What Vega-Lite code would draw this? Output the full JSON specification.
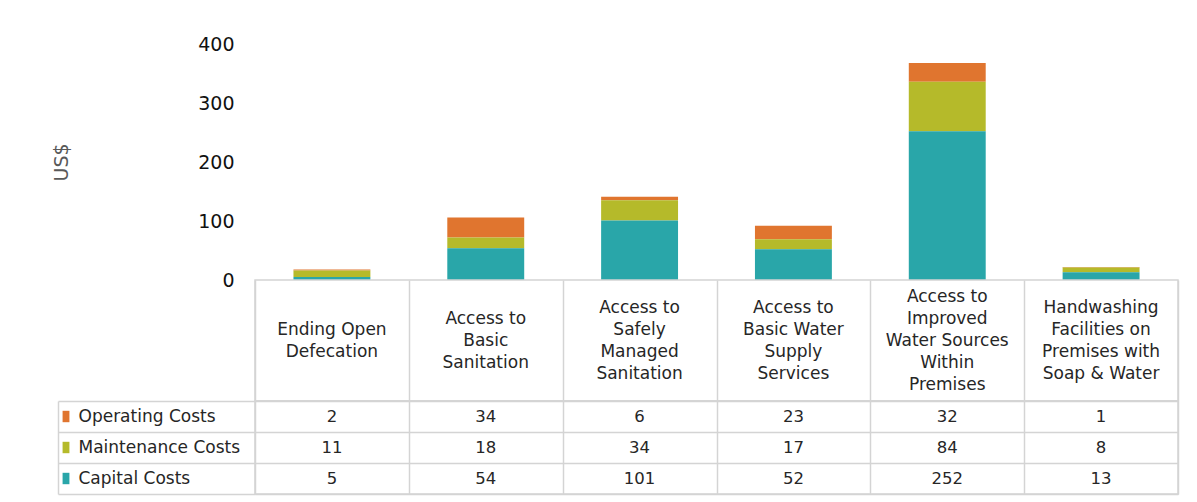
{
  "$schema": "https://vega.github.io/schema/vega-lite/v6.json",
  "background": "white",
  "padding": {"left": 52, "top": 35, "right": 5, "bottom": 5},
  "config": {
    "font": "DejaVu Sans",
    "view": {"stroke": null},
    "axis": {"labelFont": "DejaVu Sans", "titleFont": "DejaVu Sans"}
  },
  "datasets": {
    "costs": [
      {"category": "Ending Open\nDefecation", "cost": "Operating Costs", "value": 2},
      {"category": "Ending Open\nDefecation", "cost": "Maintenance Costs", "value": 11},
      {"category": "Ending Open\nDefecation", "cost": "Capital Costs", "value": 5},
      {"category": "Access to\nBasic\nSanitation", "cost": "Operating Costs", "value": 34},
      {"category": "Access to\nBasic\nSanitation", "cost": "Maintenance Costs", "value": 18},
      {"category": "Access to\nBasic\nSanitation", "cost": "Capital Costs", "value": 54},
      {"category": "Access to\nSafely\nManaged\nSanitation", "cost": "Operating Costs", "value": 6},
      {"category": "Access to\nSafely\nManaged\nSanitation", "cost": "Maintenance Costs", "value": 34},
      {"category": "Access to\nSafely\nManaged\nSanitation", "cost": "Capital Costs", "value": 101},
      {"category": "Access to\nBasic Water\nSupply\nServices", "cost": "Operating Costs", "value": 23},
      {"category": "Access to\nBasic Water\nSupply\nServices", "cost": "Maintenance Costs", "value": 17},
      {"category": "Access to\nBasic Water\nSupply\nServices", "cost": "Capital Costs", "value": 52},
      {"category": "Access to\nImproved\nWater Sources\nWithin\nPremises", "cost": "Operating Costs", "value": 32},
      {"category": "Access to\nImproved\nWater Sources\nWithin\nPremises", "cost": "Maintenance Costs", "value": 84},
      {"category": "Access to\nImproved\nWater Sources\nWithin\nPremises", "cost": "Capital Costs", "value": 252},
      {"category": "Handwashing\nFacilities on\nPremises with\nSoap & Water", "cost": "Operating Costs", "value": 1},
      {"category": "Handwashing\nFacilities on\nPremises with\nSoap & Water", "cost": "Maintenance Costs", "value": 8},
      {"category": "Handwashing\nFacilities on\nPremises with\nSoap & Water", "cost": "Capital Costs", "value": 13}
    ]
  },
  "columns": 2,
  "bounds": "flush",
  "spacing": {"row": 0, "column": 181},
  "resolve": {"scale": {"x": "independent", "y": "independent"}},
  "concat": [
    {
      "width": 16, "height": 236,
      "data": {"values": [{}]},
      "mark": {"type": "text"},
      "encoding": {"text": {"value": ""}}
    },
    {
      "width": 923, "height": 236,
      "data": {"name": "costs"},
      "mark": {"type": "bar"},
      "encoding": {
        "x": {"field": "category", "type": "nominal", "sort": null,
              "scale": {"paddingInner": 0.5, "paddingOuter": 0.25}, "axis": null},
        "y": {"field": "value", "type": "quantitative", "stack": "zero",
              "scale": {"domain": [0, 400], "nice": false},
              "axis": {"title": "US$", "values": [0, 100, 200, 300, 400], "grid": false,
                       "domain": false, "ticks": false, "labelPadding": 21,
                       "labelFontSize": 19, "labelColor": "#111111",
                       "titleFontSize": 19, "titleColor": "#595959", "titleFontWeight": "normal",
                       "titlePadding": 126}},
        "color": {"field": "cost", "type": "nominal",
                  "scale": {"domain": ["Operating Costs", "Maintenance Costs", "Capital Costs"],
                            "range": ["#E0752F", "#B5BA2A", "#29A6A9"]},
                  "legend": null},
        "order": {"field": "cost", "sort": "ascending"}
      }
    },
    {
      "width": 16, "height": 121,
      "data": {"values": [{}]},
      "mark": {"type": "text"},
      "encoding": {"text": {"value": ""}}
    },
    {
      "width": 923, "height": 121,
      "view": {"stroke": "#D4D4D4", "strokeWidth": 1.5},
      "data": {"name": "costs"},
      "transform": [{"filter": "datum.cost === 'Capital Costs'"}],
      "encoding": {
        "x": {"field": "category", "type": "nominal", "sort": null,
              "scale": {"paddingInner": 0, "paddingOuter": 0},
              "axis": {"title": null, "labels": false, "ticks": false, "domain": false,
                       "grid": true, "tickBand": "extent", "gridColor": "#D4D4D4", "gridWidth": 1.5}}
      },
      "layer": [
        {
          "mark": {"type": "text", "lineBreak": "\n", "fontSize": 17, "lineHeight": 22,
                   "color": "#262626", "baseline": "middle", "dy": -11},
          "encoding": {"text": {"condition": {"test": "length(split(datum.category, '\\n')) === 2", "field": "category"}, "value": ""}}
        },
        {
          "mark": {"type": "text", "lineBreak": "\n", "fontSize": 17, "lineHeight": 22,
                   "color": "#262626", "baseline": "middle", "dy": -22},
          "encoding": {"text": {"condition": {"test": "length(split(datum.category, '\\n')) === 3", "field": "category"}, "value": ""}}
        },
        {
          "mark": {"type": "text", "lineBreak": "\n", "fontSize": 17, "lineHeight": 22,
                   "color": "#262626", "baseline": "middle", "dy": -33},
          "encoding": {"text": {"condition": {"test": "length(split(datum.category, '\\n')) === 4", "field": "category"}, "value": ""}}
        },
        {
          "mark": {"type": "text", "lineBreak": "\n", "fontSize": 17, "lineHeight": 22,
                   "color": "#262626", "baseline": "middle", "dy": -44},
          "encoding": {"text": {"condition": {"test": "length(split(datum.category, '\\n')) === 5", "field": "category"}, "value": ""}}
        }
      ]
    },
    {
      "width": 16, "height": 93,
      "data": {"name": "costs"},
      "transform": [{"filter": "datum.category === 'Ending Open\\nDefecation'"}],
      "mark": {"type": "point", "filled": true, "opacity": 1, "size": 130, "strokeWidth": 0,
               "shape": "M-0.6,-1H0.6V1H-0.6Z"},
      "encoding": {
        "y": {"field": "cost", "type": "nominal",
              "sort": ["Operating Costs", "Maintenance Costs", "Capital Costs"],
              "scale": {"paddingInner": 0, "paddingOuter": 0},
              "axis": {"title": null, "labels": false, "ticks": false, "grid": false,
                       "domain": true, "domainColor": "#D4D4D4", "domainWidth": 1.5}},
        "color": {"field": "cost", "type": "nominal",
                  "scale": {"domain": ["Operating Costs", "Maintenance Costs", "Capital Costs"],
                            "range": ["#E0752F", "#B5BA2A", "#29A6A9"]},
                  "legend": null}
      }
    },
    {
      "width": 923, "height": 93,
      "view": {"stroke": "#D4D4D4", "strokeWidth": 1.5},
      "data": {"name": "costs"},
      "mark": {"type": "text", "fontSize": 16.5, "color": "#262626", "baseline": "middle"},
      "encoding": {
        "x": {"field": "category", "type": "nominal", "sort": null,
              "scale": {"paddingInner": 0, "paddingOuter": 0},
              "axis": {"title": null, "labels": false, "ticks": false, "domain": false,
                       "grid": true, "tickBand": "extent", "gridColor": "#D4D4D4", "gridWidth": 1.5}},
        "y": {"field": "cost", "type": "nominal",
              "sort": ["Operating Costs", "Maintenance Costs", "Capital Costs"],
              "scale": {"paddingInner": 0, "paddingOuter": 0},
              "axis": {"title": null, "domain": false, "grid": true, "tickBand": "extent",
                       "gridColor": "#D4D4D4", "gridWidth": 1.5,
                       "ticks": true, "tickSize": 197, "tickColor": "#D4D4D4", "tickWidth": 1.5,
                       "labelAlign": "left", "labelPadding": -20, "labelFontSize": 17,
                       "labelColor": "#262626", "labelBaseline": "middle"}},
        "text": {"field": "value"}
      }
    }
  ]
}
